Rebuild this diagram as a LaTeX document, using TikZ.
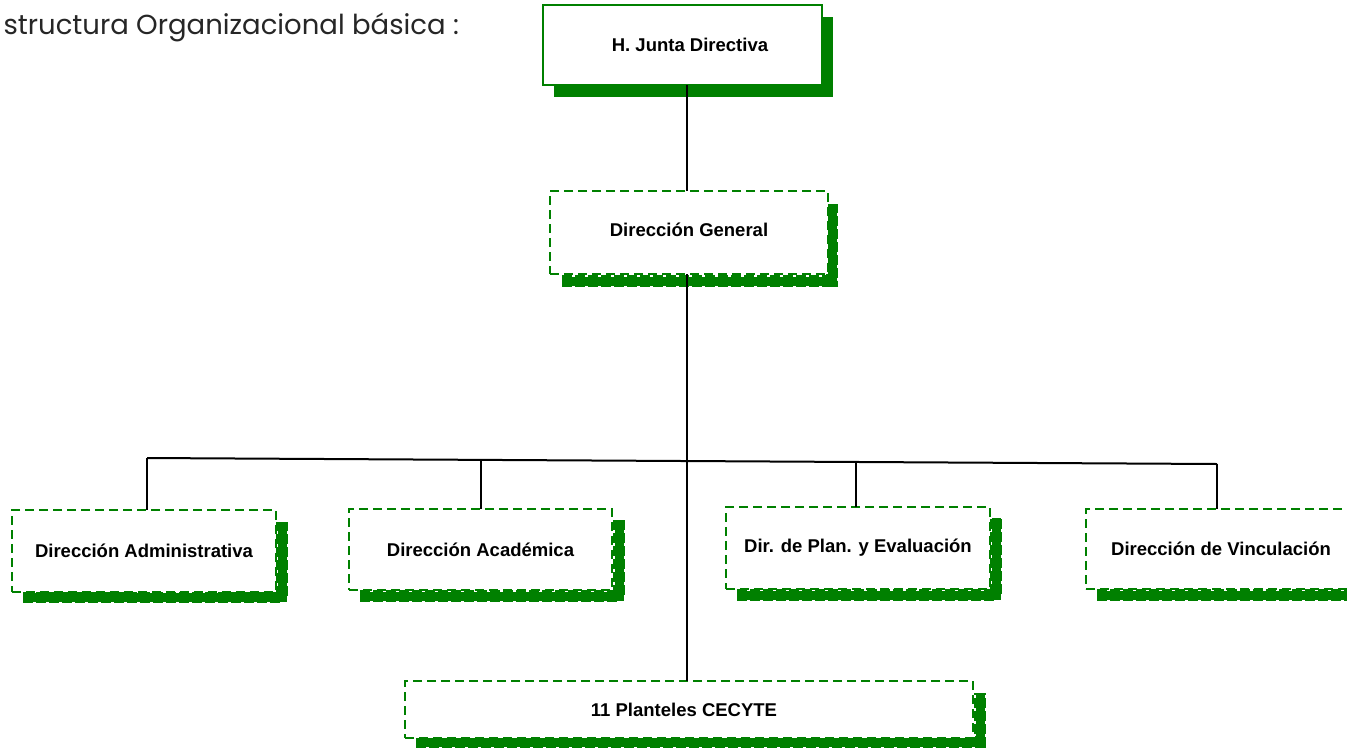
\documentclass[tikz,border=0pt]{standalone}
\usepackage{fontspec}
\setmainfont{Liberation Sans}
\newfontfamily\titlefont{Poppins}
\definecolor{dgreen}{HTML}{008000}
\begin{document}
\begin{tikzpicture}[x=1pt,y=-1pt,
  box/.style={draw=dgreen,line width=1.8pt,fill=white,inner sep=0pt,outer sep=0pt,
     font=\bfseries\fontsize{18.5}{21}\selectfont,text=black},
  dbox/.style={box,line width=2.6pt,dash pattern=on 9pt off 5pt},
  shadecore/.style={draw=dgreen,line width=9pt},
  shade/.style={draw=dgreen,line width=12pt,dash pattern=on 10pt off 3pt},
  conn/.style={draw=black,line width=2pt}]
\useasboundingbox (0,0) rectangle (1347,750);
\node[anchor=west,font=\titlefont\fontsize{27.5}{30}\selectfont,text=black!85] (title) at (0,27) {structura Organizacional básica :};
% shadows
\fill[dgreen] (554,17) rectangle (833,97);
\foreach \s in {shadecore,shade}{
  \draw[\s] (562,281) -- (832,281) -- (832,204);
  \draw[\s] (23,597) -- (282,597) -- (282,522);
  \draw[\s] (360,596) -- (619,596) -- (619,520);
  \draw[\s] (737,595) -- (996,595) -- (996,518);
  \draw[\s] (1097,595) -- (1360,595);
  \draw[\s] (416,742) -- (980,742) -- (980,693);
}
% boxes
\node[box,minimum width=279pt,minimum height=80pt] (J) at (682.5,45) {\hspace*{15pt}H. Junta Directiva};
\node[dbox,minimum width=278pt,minimum height=83pt] (DG) at (689,232.5) {\raisebox{5pt}{Dirección General}};
\node[dbox,minimum width=264pt,minimum height=82pt] (DA) at (144,551) {Dirección Administrativa};
\node[dbox,minimum width=263pt,minimum height=81pt] (DAc) at (480.5,549.5) {Dirección Académica};
\node[dbox,minimum width=264pt,minimum height=82pt] (DP) at (858,548) {\raisebox{2pt}{Dir. de Plan. y Evaluación}};
\node[dbox,minimum width=270pt,minimum height=80pt] (DV) at (1221,549) {\raisebox{-2pt}{Dirección de Vinculación}};
\node[dbox,minimum width=568pt,minimum height=57pt] (PC) at (689,709.5) {\hspace*{-10pt}11 Planteles CECYTE};
% connectors
\coordinate (t) at (687,0);
\coordinate (hl) at (147,458);
\coordinate (hr) at (1217,464);
\coordinate (h2) at (481,460);
\coordinate (h3) at (856,462);
\draw[conn] (J.south -| t) -- (DG.north -| t);
\draw[conn] (DG.south -| t) -- (PC.north -| t);
\draw[conn] (hl) -- (hr);
\draw[conn] (hl) -- (DA.north -| hl);
\draw[conn] (h2) -- (DAc.north -| h2);
\draw[conn] (h3) -- (DP.north -| h3);
\draw[conn] (hr) -- (DV.north -| hr);
\end{tikzpicture}
\end{document}
